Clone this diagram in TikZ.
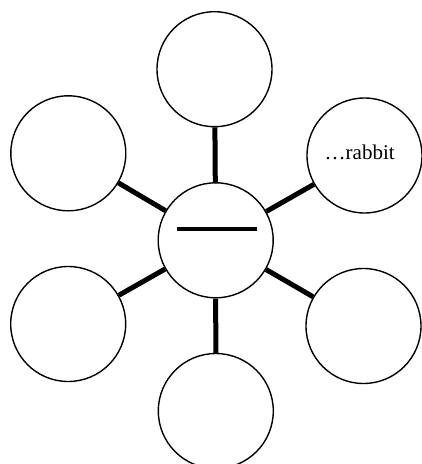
\documentclass[tikz,border=0pt]{standalone}
\usepackage{fontspec}
\setmainfont{Liberation Serif}
\begin{document}
\begin{tikzpicture}[x=1pt,y=-1pt,
  bubble/.style={circle,draw,line width=1.4pt,minimum size=115pt,inner sep=0pt,fill=white},
  spoke/.style={line width=5pt},
  word/.style={font=\fontsize{21}{24}\selectfont,inner sep=0pt}]
\useasboundingbox (0,0) rectangle (422,464);
\node[bubble] (c) at (215.7,240.3) {};
\node[bubble] (t) at (214.5,69.2) {};
\node[bubble] (tl) at (68.3,153.3) {};
\node[bubble] (bl) at (68.2,324) {};
\node[bubble,label={[word,xshift=-4.8pt,yshift=3.5pt]center:…rabbit}] (tr) at (364.5,155.5) {};
\node[bubble] (br) at (363.5,326) {};
\node[bubble] (b) at (215.8,411) {};
\coordinate (la) at (177.3,228.8);
\coordinate (lb) at (256.7,228.8);
\draw[line width=4.3pt] (la) -- (lb);
\foreach \n in {t,tl,bl,tr,br,b} \draw[spoke] (c) -- (\n);
\end{tikzpicture}
\end{document}
